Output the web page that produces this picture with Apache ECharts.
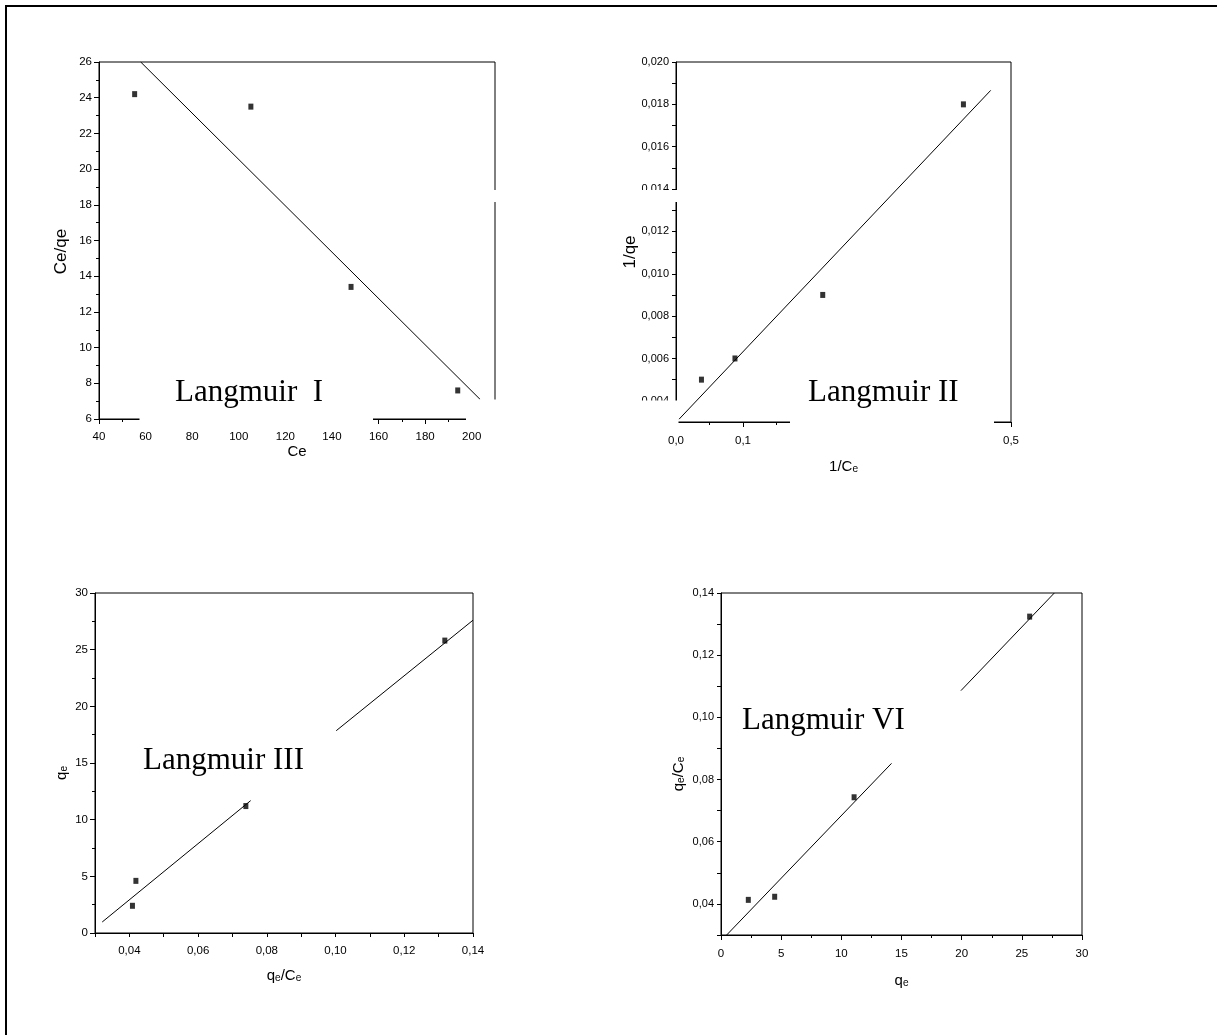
<!DOCTYPE html>
<html><head><meta charset="utf-8">
<script src="https://cdn.jsdelivr.net/npm/echarts@6.0.0/dist/echarts.min.js"></script>
<style>html,body{margin:0;padding:0;background:#fff}#c{width:1217px;height:1035px}</style>
</head><body><div id="c"></div>
<script>
// ---- Data ----
// Langmuir I : Ce/qe vs Ce
const c1X = [55.3, 105.2, 148.2, 194.0];
const c1Y = [24.2, 23.5, 13.4, 7.6];
const c1FitX = [57.9, 203.6];
const c1FitY = [26.0, 7.1];
// Langmuir II : 1/qe vs 1/Ce
const c2X = [0.038, 0.088, 0.219, 0.429];
const c2Y = [0.0050, 0.0060, 0.0090, 0.0180];
const c2FitX = [0.0045, 0.4697];
const c2FitY = [0.00313, 0.01866];
// Langmuir III : qe vs qe/Ce
const c3X = [0.0409, 0.0419, 0.0739, 0.1318];
const c3Y = [2.4, 4.6, 11.2, 25.8];
const c3FitAX = [0.0321, 0.0753];
const c3FitAY = [0.97, 11.68];
const c3FitBX = [0.1002, 0.14];
const c3FitBY = [17.85, 27.6];
// Langmuir VI : qe/Ce vs qe
const c4X = [2.27, 4.46, 11.06, 25.65];
const c4Y = [0.0413, 0.0423, 0.0743, 0.1324];
const c4FitAX = [0.47, 14.17];
const c4FitAY = [0.030, 0.0852];
const c4FitBX = [19.94, 27.7];
const c4FitBY = [0.1086, 0.14];
// labels
const panelLabels = ['Langmuir  I', 'Langmuir II', 'Langmuir III', 'Langmuir VI'];
const axisTitlesX = ['Ce', '1/C\u2091', 'q\u2091/C\u2091', 'q\u2091'];
const axisTitlesY = ['Ce/qe', '1/qe', 'q\u2091', 'q\u2091/C\u2091'];

const pairs = (xs, ys) => xs.map((x, i) => [x, ys[i]]);
const comma = (v, d) => v.toFixed(d).replace('.', ',');

const SANS = 'Liberation Sans';
const SERIF = 'Liberation Serif';

function axis(o) {
  return {
    type: 'value',
    gridIndex: o.grid,
    min: o.min, max: o.max, interval: o.interval,
    axisLine: {show: true, onZero: false, lineStyle: {color: '#000', width: 1}},
    axisTick: {show: true, inside: false, length: o.minor ? 5 : 4, lineStyle: {color: '#000', width: 1}},
    minorTick: {show: !!o.minor, splitNumber: 2, length: 3, lineStyle: {color: '#000', width: 1}},
    splitLine: {show: false},
    minorSplitLine: {show: false},
    axisLabel: {color: '#000', fontSize: o.labelSize || 11.5, fontFamily: SANS, margin: o.margin, formatter: o.fmt, showMaxLabel: true, showMinLabel: true, hideOverlap: false},
    name: o.name, nameLocation: 'middle', nameGap: o.nameGap, nameMoveOverlap: false,
    nameTextStyle: {color: '#000', fontFamily: SANS + ', DejaVu Sans', fontSize: o.nameSize || 15, lineHeight: 17, padding: o.namePad || 0}
  };
}

const grids = [
  {left: 99, top: 62, width: 396, height: 357},
  {left: 676, top: 62, width: 335, height: 360},
  {left: 95, top: 593, width: 378, height: 340},
  {left: 721, top: 593, width: 361, height: 342}
].map(g => Object.assign(g, {show: true, borderColor: '#000', borderWidth: 1, backgroundColor: 'transparent', containLabel: false}));

const xAxes = [
  axis({grid: 0, min: 40, max: 210, interval: 20, minor: true, margin: 12,
        fmt: v => (Math.round(v) % 20 === 0 ? String(Math.round(v)) : ''), name: axisTitlesX[0], nameGap: 24}),
  axis({grid: 1, min: 0, max: 0.5, interval: 0.1, minor: true, margin: 13,
        fmt: v => comma(v, 1), name: axisTitlesX[1], nameGap: 36}),
  axis({grid: 2, min: 0.03, max: 0.14, interval: 0.01, minor: false, margin: 12,
        fmt: v => (Math.round(v * 100) % 2 === 0 ? comma(v, 2) : ''), name: axisTitlesX[2], nameGap: 34}),
  axis({grid: 3, min: 0, max: 30, interval: 5, minor: true, margin: 13,
        fmt: v => String(Math.round(v)), name: axisTitlesX[3], nameGap: 37})
];
const yAxes = [
  axis({grid: 0, min: 6, max: 26, interval: 2, minor: true, margin: 7,
        fmt: v => String(Math.round(v)), name: axisTitlesY[0], nameGap: 29, nameSize: 17, namePad: [0, 22, 0, 0]}),
  axis({grid: 1, min: 0.003, max: 0.020, interval: 0.001, minor: false, margin: 7, labelSize: 11,
        fmt: v => (Math.round(v * 1000) % 2 === 0 ? comma(v, 3) : ''), name: axisTitlesY[1], nameGap: 37, nameSize: 17, namePad: [0, 20, 0, 0]}),
  axis({grid: 2, min: 0, max: 30, interval: 5, minor: true, margin: 7,
        fmt: v => String(Math.round(v)), name: axisTitlesY[2], nameGap: 25, namePad: [0, 20, 0, 0]}),
  axis({grid: 3, min: 0.03, max: 0.14, interval: 0.01, minor: false, margin: 7, labelSize: 11,
        fmt: v => (Math.round(v * 100) % 2 === 0 ? comma(v, 2) : ''), name: axisTitlesY[3], nameGap: 34, namePad: [0, 20, 0, 0]})
];

function scatter(i, xs, ys) {
  return {type: 'scatter', xAxisIndex: i, yAxisIndex: i, data: pairs(xs, ys), symbol: 'rect', symbolSize: [5, 6],
          itemStyle: {color: '#000'}, silent: true, z: 3};
}
function fit(i, xs, ys) {
  return {type: 'line', xAxisIndex: i, yAxisIndex: i, data: pairs(xs, ys), showSymbol: false, symbol: 'none',
          lineStyle: {color: '#000', width: 1}, silent: true, z: 2, animation: false};
}

const white = {fill: '#fff'};
const masks = [
  {x: 139.5, y: 416, width: 233.5, height: 12},
  {x: 466, y: 399.5, width: 40, height: 29},
  {x: 488, y: 190, width: 192, height: 12},
  {x: 628, y: 400.5, width: 50.5, height: 28},
  {x: 790, y: 410, width: 204, height: 42}
].map(s => ({type: 'rect', shape: s, style: white, z: 50, silent: true}));

const labelPos = [[175, 393], [808, 393], [143, 761], [742, 721]];
const texts = panelLabels.map((t, i) => ({
  type: 'text', z: 60, silent: true,
  style: {text: t, x: labelPos[i][0], y: labelPos[i][1], font: '31px "' + SERIF + '"', fill: '#000',
          textAlign: 'left', textVerticalAlign: 'middle'}
}));

const frame = [
  {type: 'line', shape: {x1: 5, y1: 6, x2: 1217, y2: 6}, style: {stroke: '#000', lineWidth: 2}, z: 70, silent: true},
  {type: 'line', shape: {x1: 6, y1: 5, x2: 6, y2: 1035}, style: {stroke: '#000', lineWidth: 2}, z: 70, silent: true}
];

const chart = echarts.init(document.getElementById('c'), null, {renderer: 'canvas'});
chart.setOption({
  animation: false,
  backgroundColor: '#fff',
  grid: grids,
  xAxis: xAxes,
  yAxis: yAxes,
  series: [
    fit(0, c1FitX, c1FitY), scatter(0, c1X, c1Y),
    fit(1, c2FitX, c2FitY), scatter(1, c2X, c2Y),
    fit(2, c3FitAX, c3FitAY), fit(2, c3FitBX, c3FitBY), scatter(2, c3X, c3Y),
    fit(3, c4FitAX, c4FitAY), fit(3, c4FitBX, c4FitBY), scatter(3, c4X, c4Y)
  ],
  graphic: frame.concat(masks, texts)
});
</script>
</body></html>
